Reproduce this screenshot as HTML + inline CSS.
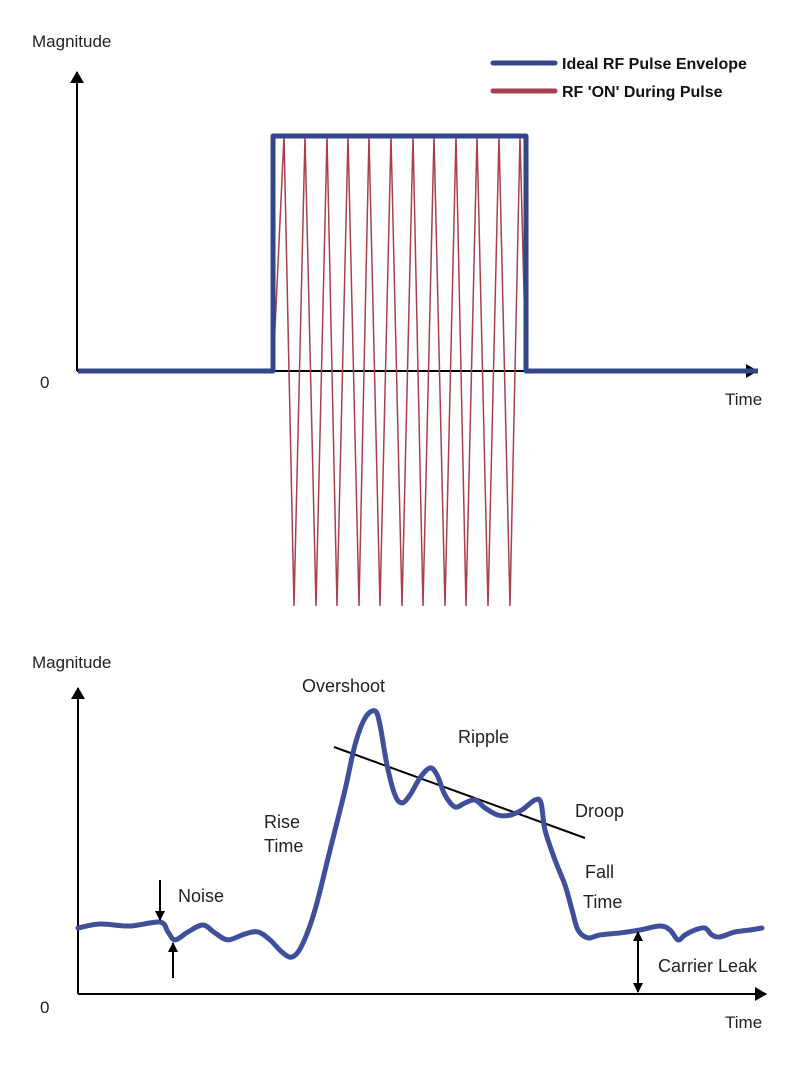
<!DOCTYPE html>
<html><head><meta charset="utf-8"><style>
html,body{margin:0;padding:0;background:#fff;}
svg{display:block;font-family:"Liberation Sans Narrow","Liberation Sans",sans-serif;}
</style></head><body>
<svg id="chart" width="805" height="1071" viewBox="0 0 805 1071">
<defs>
<marker id="ah" markerWidth="10" markerHeight="10" refX="9" refY="5" orient="auto" markerUnits="userSpaceOnUse" viewBox="0 0 10 10"><path d="M0,0 L10,5 L0,10 z" fill="#000"/></marker>
<marker id="ahs" markerWidth="12" markerHeight="14" refX="11" refY="7" orient="auto" markerUnits="userSpaceOnUse" viewBox="0 0 12 14"><path d="M0,0 L12,7 L0,14 z" fill="#000"/></marker>
</defs>
<g id="top">
<text x="32" y="47" font-size="17" fill="#222">Magnitude</text>
<text x="40" y="388" font-size="17" fill="#222">0</text>
<text x="725" y="405" font-size="17" fill="#222">Time</text>
<line x1="77" y1="371" x2="77" y2="72" stroke="#000" stroke-width="2" marker-end="url(#ahs)"/>
<line x1="77" y1="371" x2="757" y2="371" stroke="#000" stroke-width="2" marker-end="url(#ahs)"/>
<g id="topMarks"></g>
<line x1="493" y1="63" x2="555" y2="63" stroke="#33468a" stroke-width="5" stroke-linecap="round"/>
<text x="562" y="69" font-size="16" font-weight="bold" fill="#111">Ideal RF Pulse Envelope</text>
<line x1="493" y1="91" x2="555" y2="91" stroke="#a8404f" stroke-width="5" stroke-linecap="round"/>
<text x="562" y="97" font-size="16" font-weight="bold" fill="#111">RF 'ON' During Pulse</text>
</g>
<g id="bottom">
<text x="32" y="668" font-size="17" fill="#222">Magnitude</text>
<text x="40" y="1013" font-size="17" fill="#222">0</text>
<text x="725" y="1028" font-size="17" fill="#222">Time</text>
<line x1="78" y1="994" x2="78" y2="688" stroke="#000" stroke-width="2" marker-end="url(#ahs)"/>
<line x1="78" y1="994" x2="766" y2="994" stroke="#000" stroke-width="2" marker-end="url(#ahs)"/>
<line x1="334" y1="747" x2="585" y2="838" stroke="#000" stroke-width="2"/>
<g id="botMarks"></g>
<line x1="160" y1="880" x2="160" y2="920" stroke="#000" stroke-width="2" marker-end="url(#ah)"/>
<line x1="173" y1="978" x2="173" y2="943" stroke="#000" stroke-width="2" marker-end="url(#ah)"/>
<line x1="638" y1="960" x2="638" y2="932" stroke="#000" stroke-width="2" marker-end="url(#ah)"/>
<line x1="638" y1="960" x2="638" y2="992" stroke="#000" stroke-width="2" marker-end="url(#ah)"/>
<text x="178" y="902" font-size="18" fill="#222">Noise</text>
<text x="264" y="828" font-size="18" fill="#222">Rise</text>
<text x="264" y="852" font-size="18" fill="#222">Time</text>
<text x="302" y="692" font-size="18" fill="#222">Overshoot</text>
<text x="458" y="743" font-size="18" fill="#222">Ripple</text>
<text x="575" y="817" font-size="18" fill="#222">Droop</text>
<text x="585" y="878" font-size="18" fill="#222">Fall</text>
<text x="583" y="908" font-size="18" fill="#222">Time</text>
<text x="658" y="972" font-size="18" fill="#222">Carrier Leak</text>
</g>
</svg>
<script>
// Top chart data (time units mapped to pixels by axis functions)
const envTimes = [0, 195, 195, 448, 448, 680];
const envLevels = [0, 0, 1, 1, 0, 0];
const rfPeakTimes = [206, 227, 249, 270, 291, 313, 335, 356, 378, 399, 421, 442];
const rfTroughTimes = [216, 238, 259, 281, 302, 324, 345, 367, 388, 410, 432];
// Bottom chart data: time, magnitude
const sigTimes = [0, 22, 52, 82, 90, 97, 110, 125, 137, 150, 167, 180, 192, 204, 214, 224, 237, 252, 267, 277, 287, 297, 302, 309, 317, 324, 332, 342, 352, 359, 367, 377, 387, 397, 407, 420, 432, 444, 457, 463, 467, 477, 487, 494, 500, 510, 522, 542, 562, 582, 592, 600, 607, 617, 627, 634, 642, 657, 672, 684];
const sigMags = [0.2, 0.212, 0.206, 0.218, 0.188, 0.164, 0.188, 0.209, 0.185, 0.164, 0.182, 0.188, 0.164, 0.127, 0.112, 0.148, 0.255, 0.436, 0.618, 0.755, 0.836, 0.858, 0.815, 0.694, 0.603, 0.579, 0.603, 0.655, 0.685, 0.664, 0.603, 0.567, 0.579, 0.588, 0.564, 0.542, 0.542, 0.558, 0.588, 0.579, 0.497, 0.406, 0.33, 0.255, 0.194, 0.17, 0.179, 0.185, 0.194, 0.206, 0.194, 0.164, 0.179, 0.194, 0.2, 0.179, 0.173, 0.188, 0.194, 0.2];

const NS = 'http://www.w3.org/2000/svg';
function tx(t){ return 78 + t; }
function ty(v){ return 371 - v * 235; }
function bx(t){ return 78 + t; }
function by(v){ return 994 - v * 330; }

const topG = document.getElementById('topMarks');
let rf = [[tx(0), ty(0)], [tx(envTimes[1]), ty(0)]];
for (let i = 0; i < rfPeakTimes.length; i++) {
  rf.push([tx(rfPeakTimes[i]), ty(1)]);
  if (i < rfTroughTimes.length) rf.push([tx(rfTroughTimes[i]), ty(-1)]);
}
rf.push([tx(envTimes[3]), ty(0)]);
const rfPath = document.createElementNS(NS, 'polyline');
rfPath.setAttribute('points', rf.map(p => p.join(',')).join(' '));
rfPath.setAttribute('fill', 'none');
rfPath.setAttribute('stroke', '#a8404f');
rfPath.setAttribute('stroke-width', '1.5');


topG.appendChild(rfPath);
const env = envTimes.map((t, i) => [tx(t), ty(envLevels[i])]);
const envPath = document.createElementNS(NS, 'polyline');
envPath.setAttribute('points', env.map(p => p.join(',')).join(' '));
envPath.setAttribute('fill', 'none');
envPath.setAttribute('stroke', '#33468a');
envPath.setAttribute('stroke-width', '5');
envPath.setAttribute('stroke-linejoin', 'round');


topG.appendChild(envPath);

const pts = sigTimes.map((t, i) => [bx(t), by(sigMags[i])]);
let d = 'M' + pts[0][0] + ',' + pts[0][1];
for (let i = 0; i < pts.length - 1; i++) {
  const p0 = pts[Math.max(0, i - 1)], p1 = pts[i], p2 = pts[i + 1], p3 = pts[Math.min(pts.length - 1, i + 2)];
  const c1 = [p1[0] + (p2[0] - p0[0]) / 6, p1[1] + (p2[1] - p0[1]) / 6];
  const c2 = [p2[0] - (p3[0] - p1[0]) / 6, p2[1] - (p3[1] - p1[1]) / 6];
  d += ' C' + c1.join(',') + ' ' + c2.join(',') + ' ' + p2.join(',');
}
const sig = document.createElementNS(NS, 'path');
sig.setAttribute('d', d);
sig.setAttribute('fill', 'none');
sig.setAttribute('stroke', '#3f4f9a');
sig.setAttribute('stroke-width', '5');
sig.setAttribute('stroke-linecap', 'round');
sig.setAttribute('stroke-linejoin', 'round');


document.getElementById('botMarks').appendChild(sig);
</script>
</body></html>
